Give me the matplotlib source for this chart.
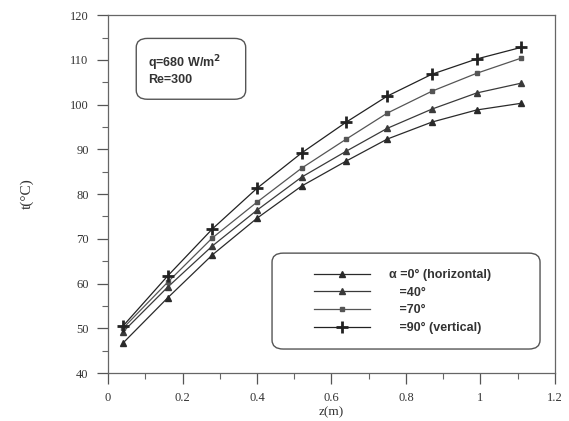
import matplotlib
matplotlib.use("Agg")
import matplotlib.pyplot as plt
from matplotlib.patches import FancyBboxPatch
from matplotlib.ticker import MultipleLocator, FixedLocator, FixedFormatter

# axial position along the tube (m)
z = [0.04, 0.16, 0.28, 0.40, 0.52, 0.64, 0.75, 0.87, 0.99, 1.11]

# wall temperature (deg C) for each inclination angle
t_0deg = [46.7, 56.8, 66.4, 74.6, 81.8, 87.4, 92.3, 96.1, 98.8, 100.3]
t_40deg = [49.2, 59.2, 68.4, 76.4, 83.8, 89.6, 94.7, 99.0, 102.6, 104.8]
t_70deg = [50.0, 60.3, 70.2, 78.2, 85.8, 92.3, 98.1, 103.0, 107.0, 110.4]
t_90deg = [50.5, 61.7, 72.2, 81.3, 89.2, 96.1, 101.9, 106.8, 110.2, 112.8]

series_labels = ["\u03b1 =0\u00b0 (horizontal)", "   =40\u00b0",
                 "   =70\u00b0", "   =90\u00b0 (vertical)"]

x_ticks = [0, 0.2, 0.4, 0.6, 0.8, 1.0, 1.2]
x_ticklabels = ["0", "0.2", "0.4", "0.6", "0.8", "1", "1.2"]
y_ticks = [40, 50, 60, 70, 80, 90, 100, 110, 120]

fig = plt.figure(figsize=(5.69, 4.21), dpi=100)
ax = fig.add_axes([0.190, 0.114, 0.785, 0.850])

serif = "Liberation Serif"
sans = "Liberation Sans"

styles = [
    dict(marker="^", ms=5, color="#2a2a2a"),
    dict(marker="^", ms=4.5, color="#3a3a3a"),
    dict(marker="s", ms=3.5, color="#555555"),
    dict(marker="+", ms=9, mew=2.0, color="#222222"),
]
all_t = [t_0deg, t_40deg, t_70deg, t_90deg]
handles = []
for t, st, lab in zip(all_t, styles, series_labels):
    h, = ax.plot(z, t, lw=0.9, label=lab, mec=st["color"], mfc=st["color"],
                 **st)
    handles.append(h)

ax.set_xlim(0, 1.2)
ax.set_ylim(40, 120)
ax.xaxis.set_major_locator(FixedLocator(x_ticks))
ax.xaxis.set_major_formatter(FixedFormatter(x_ticklabels))
ax.xaxis.set_minor_locator(MultipleLocator(0.1))
ax.yaxis.set_major_locator(FixedLocator(y_ticks))
ax.yaxis.set_minor_locator(MultipleLocator(5))
ax.tick_params(which="major", direction="out", length=8, width=0.9,
               color="#555555", labelsize=9, labelcolor="#333333", pad=6)
ax.tick_params(which="minor", direction="out", length=4, width=0.8,
               color="#666666")
for lab in ax.get_xticklabels() + ax.get_yticklabels():
    lab.set_family(serif)
for sp in ax.spines.values():
    sp.set_color("#666666")
    sp.set_linewidth(0.9)

ax.set_xlabel("z(m)", family=serif, fontsize=9.5, color="#333333", labelpad=1)
ax.set_ylabel("t(\u00b0C)", family=serif, fontsize=11, color="#333333",
              labelpad=26)

# condition box in the upper left
ax.add_patch(FancyBboxPatch((0.063, 0.765), 0.245, 0.17,
                            boxstyle="round,pad=0,rounding_size=0.025",
                            transform=ax.transAxes, fill=False,
                            ec="#555555", lw=1.0))
ax.text(0.09, 0.865, "q=680 W/m$^\\mathbf{2}$", transform=ax.transAxes,
        family=sans, fontweight="bold", fontsize=9, color="#333333",
        va="center")
ax.text(0.09, 0.818, "Re=300", transform=ax.transAxes, family=sans,
        fontweight="bold", fontsize=9, color="#333333", va="center")

# legend inside a rounded frame
ax.add_patch(FancyBboxPatch((0.367, 0.067), 0.6, 0.268,
                            boxstyle="round,pad=0,rounding_size=0.025",
                            transform=ax.transAxes, fill=True, fc="white",
                            ec="#555555", lw=1.0, zorder=3))
leg = ax.legend(handles=handles, loc="center left",
                bbox_to_anchor=(0.435, 0.2), frameon=False,
                prop=dict(family=sans, weight="bold", size=9),
                handlelength=4.5, handletextpad=1.5, labelspacing=0.45)
leg.set_zorder(4)
for txt in leg.get_texts():
    txt.set_color("#333333")

fig.savefig("out.png", dpi=100, facecolor="white")
